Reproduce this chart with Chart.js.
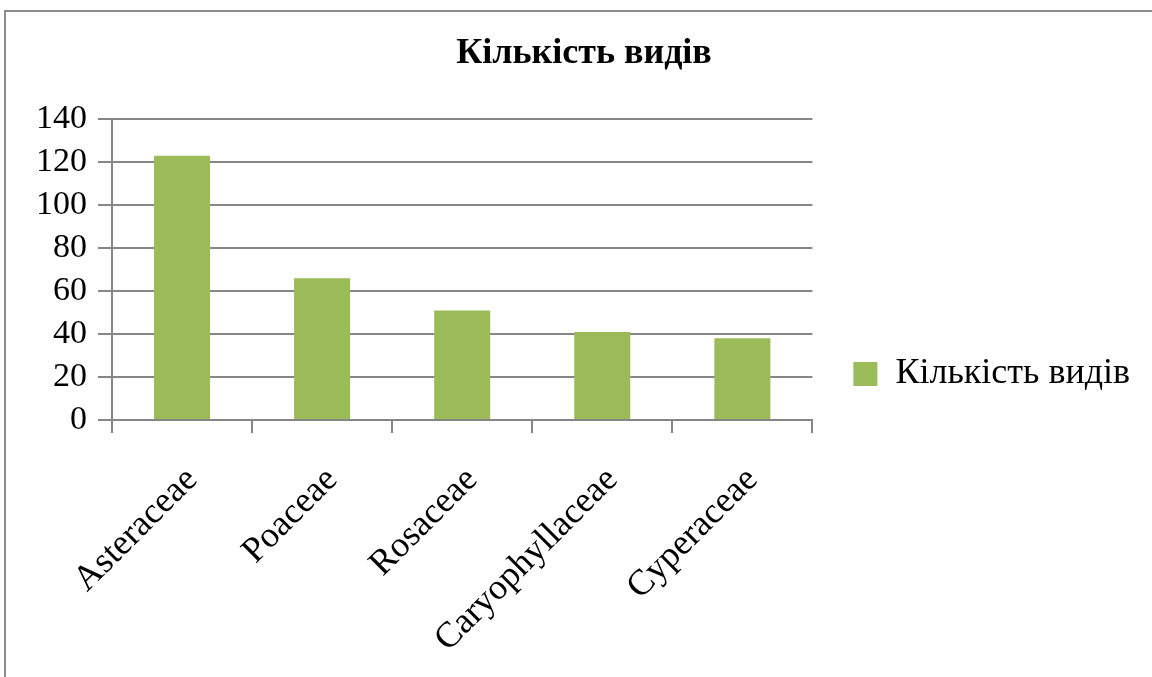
<!DOCTYPE html>
<html>
<head>
<meta charset="utf-8">
<script src="https://cdn.jsdelivr.net/npm/chart.js@4.4.0/dist/chart.umd.min.js"></script>
<style>
  html, body { margin: 0; padding: 0; background: #fff; overflow: hidden; }
  #wrap { position: relative; width: 1152px; height: 677px; }
  #ramka { position: absolute; left: 4px; top: 10px; width: 1200px; height: 700px; border: 2px solid #8c8c8c; box-sizing: border-box; }
  #grafik { position: absolute; left: 0; top: 0; }
</style>
</head>
<body>
<div id="wrap">
  <div id="ramka"></div>
  <canvas id="grafik" width="1152" height="677"></canvas>
</div>
<script>
// дані з діаграми
const rodyny = ['Asteraceae', 'Poaceae', 'Rosaceae', 'Caryophyllaceae', 'Cyperaceae'];
const kilkist_vydiv = [123, 66, 51, 41, 38];
const nazva = 'Кількість видів';

const shryft = "'Times New Roman', 'Liberation Serif', serif";
const sirij = '#868686';

const ctx = document.getElementById('grafik').getContext('2d');
const myChart = new Chart(ctx, {
    type: 'bar',
    data: {
        labels: rodyny,
        datasets: [{
            label: nazva,
            data: kilkist_vydiv,
            backgroundColor: '#9BBB59',
            borderWidth: 0,
            barPercentage: 0.4,
            categoryPercentage: 1.0
        }]
    },
    options: {
        responsive: false,
        animation: false,
        layout: {
            // низ від'ємний, щоб легенда опустилась до рівня ~374px
            padding: { left: 28, right: 12, top: 0, bottom: -71 }
        },
        plugins: {
            title: {
                display: true,
                text: nazva,
                color: '#000',
                font: { family: shryft, size: 36, weight: 'bold' },
                padding: { top: 32, bottom: 44 }
            },
            legend: {
                position: 'right',
                maxWidth: 400,
                labels: {
                    color: '#000',
                    font: { family: shryft, size: 36 },
                    boxWidth: 24,
                    boxHeight: 24,
                    padding: 41
                }
            },
            tooltip: { enabled: false }
        },
        scales: {
            x: {
                grid: {
                    offset: true,
                    drawOnChartArea: false,
                    drawTicks: true,
                    tickLength: 13,
                    color: sirij,
                    lineWidth: 2
                },
                border: { color: sirij, width: 2 },
                ticks: {
                    color: '#000',
                    font: { family: shryft, size: 36 },
                    minRotation: 45,
                    maxRotation: 45,
                    padding: 26,
                    labelOffset: 10
                },
                afterFit: function(scale) {
                    scale.height = 328;
                }
            },
            y: {
                min: 0,
                max: 140,
                ticks: {
                    stepSize: 20,
                    autoSkip: false,
                    color: '#000',
                    font: { family: shryft, size: 34 },
                    padding: 11
                },
                grid: {
                    color: sirij,
                    lineWidth: 2,
                    tickLength: 14
                },
                border: { color: sirij, width: 2 },
                afterFit: function(scale) {
                    scale.width = 84;
                }
            }
        }
    }
});
</script>
</body>
</html>
